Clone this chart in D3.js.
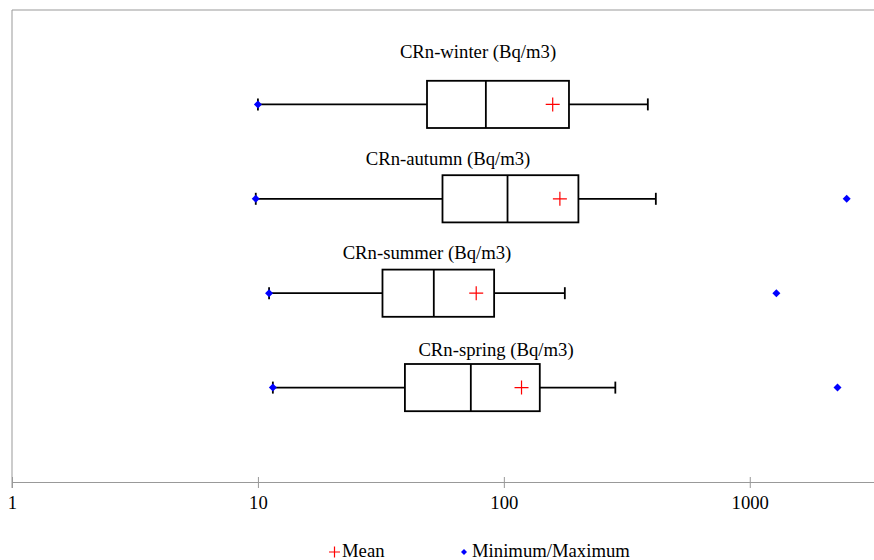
<!DOCTYPE html>
<html>
<head>
<meta charset="utf-8">
<script src="https://cdn.jsdelivr.net/npm/d3@7"></script>
<style>
  body { margin: 0; background: #fff; }
  text { font-family: "Liberation Serif", "Times New Roman", serif; }
</style>
</head>
<body>
<svg id="chart" width="874" height="560"></svg>
<script>
// seasons, top to bottom
var seasons = ["CRn-winter (Bq/m3)", "CRn-autumn (Bq/m3)", "CRn-summer (Bq/m3)", "CRn-spring (Bq/m3)"];
var whiskerLow = [10, 9.8, 11.1, 11.5];
var q1 = [48.7, 56.3, 32.1, 39.6];
var median = [84.5, 103.5, 51.9, 73.4];
var q3 = [184, 201, 91.3, 140];
var whiskerHigh = [385, 415, 177, 284];
var mean = [158, 169, 77.2, 118];
var minimum = [10, 9.8, 11.1, 11.5];
var maximum = [null, 2478, 1283, 2274];
var xTicks = [1, 10, 100, 1000];

// label placement (pixels)
var labelX = [478, 448, 427, 496];
var labelDy = [-46, -34, -34, -32];

var svg = d3.select("#chart");
var plotLeft = 12, plotRight = 874, plotTop = 10, plotBottom = 482;

var x = d3.scaleLog().domain([1, 3200]).range([plotLeft, plotRight]);
var y = d3.scalePoint().domain(seasons).range([plotTop, plotBottom]).padding(1);
var boxH = y.step() / 2;
var lw = 1.8;

var data = seasons.map(function(s, i) {
    return {name: s, lo: whiskerLow[i], q1: q1[i], med: median[i], q3: q3[i],
            hi: whiskerHigh[i], mean: mean[i], min: minimum[i], max: maximum[i], i: i};
});

// frame
svg.append("line").attr("x1", plotLeft).attr("x2", plotRight).attr("y1", plotTop).attr("y2", plotTop)
    .attr("stroke", "#999").attr("stroke-width", 1);
svg.append("line").attr("x1", plotLeft).attr("x2", plotLeft).attr("y1", plotTop).attr("y2", plotBottom + 6)
    .attr("stroke", "#999").attr("stroke-width", 1);

// x axis
var gx = svg.append("g").attr("transform", "translate(0," + plotBottom + ")")
    .call(d3.axisBottom(x).tickValues(xTicks).tickFormat(d3.format("d")).tickSize(6).tickSizeOuter(0));
gx.select(".domain").attr("stroke", "#999");
gx.selectAll(".tick line").attr("stroke", "#999").attr("y1", -5);
gx.selectAll(".tick text").attr("font-size", "18.7px").attr("fill", "#000")
    .attr("font-family", "Liberation Serif, Times New Roman, serif").attr("y", 14);

var g = svg.selectAll(".season").data(data).enter().append("g").attr("class", "season");

// whiskers
g.append("line").attr("x1", function(d) { return x(d.lo); }).attr("x2", function(d) { return x(d.q1); })
    .attr("y1", function(d) { return y(d.name); }).attr("y2", function(d) { return y(d.name); })
    .attr("stroke", "#000").attr("stroke-width", lw);
g.append("line").attr("x1", function(d) { return x(d.q3); }).attr("x2", function(d) { return x(d.hi); })
    .attr("y1", function(d) { return y(d.name); }).attr("y2", function(d) { return y(d.name); })
    .attr("stroke", "#000").attr("stroke-width", lw);
["lo", "hi"].forEach(function(k) {
    g.append("line").attr("x1", function(d) { return x(d[k]); }).attr("x2", function(d) { return x(d[k]); })
        .attr("y1", function(d) { return y(d.name) - 6; }).attr("y2", function(d) { return y(d.name) + 6; })
        .attr("stroke", "#000").attr("stroke-width", lw);
});

// boxes
g.append("rect").attr("x", function(d) { return x(d.q1); })
    .attr("width", function(d) { return x(d.q3) - x(d.q1); })
    .attr("y", function(d) { return y(d.name) - boxH / 2; }).attr("height", boxH)
    .attr("fill", "#fff").attr("stroke", "#000").attr("stroke-width", lw);
g.append("line").attr("x1", function(d) { return x(d.med); }).attr("x2", function(d) { return x(d.med); })
    .attr("y1", function(d) { return y(d.name) - boxH / 2; }).attr("y2", function(d) { return y(d.name) + boxH / 2; })
    .attr("stroke", "#000").attr("stroke-width", lw);

// mean
g.append("path").attr("d", "M-7,0H7M0,-7V7")
    .attr("transform", function(d) { return "translate(" + x(d.mean) + "," + y(d.name) + ")"; })
    .attr("stroke", "#f00").attr("stroke-width", 1.2).attr("fill", "none");

// minimum / maximum
var extremes = [];
data.forEach(function(d) {
    if (d.min != null) extremes.push({v: d.min, name: d.name});
    if (d.max != null) extremes.push({v: d.max, name: d.name});
});
svg.selectAll(".ext").data(extremes).enter().append("path").attr("class", "ext")
    .attr("d", "M0,-4L4,0L0,4L-4,0Z")
    .attr("transform", function(d) { return "translate(" + x(d.v) + "," + y(d.name) + ")"; })
    .attr("fill", "#00f");

// season titles
g.append("text").attr("x", function(d) { return labelX[d.i]; })
    .attr("y", function(d) { return y(d.name) + labelDy[d.i]; })
    .attr("text-anchor", "middle").attr("font-size", "18.7px").attr("fill", "#000")
    .text(function(d) { return d.name; });

// legend
var leg = svg.append("g").attr("transform", "translate(0,557)");
leg.append("path").attr("d", "M329,-5H340M334.5,-10.5V0.5").attr("stroke", "#f00").attr("stroke-width", 1.2);
leg.append("text").attr("x", 342).attr("y", 0).attr("font-size", "18.7px").text("Mean");
leg.append("path").attr("d", "M464,-8L467,-5L464,-2L461,-5Z").attr("fill", "#00f");
leg.append("text").attr("x", 472).attr("y", 0).attr("font-size", "18.7px").text("Minimum/Maximum");
</script>
</body>
</html>
